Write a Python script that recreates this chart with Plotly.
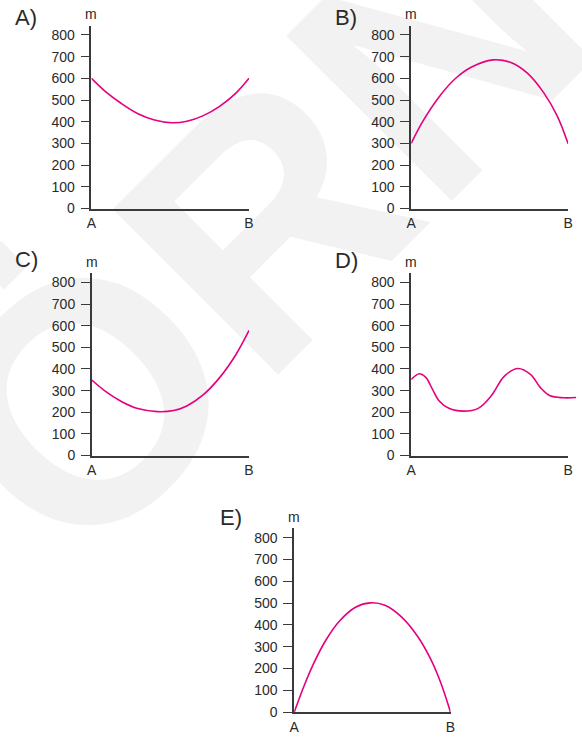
import plotly.graph_objects as go

W, H = 582, 740

# ---- data (x is fraction of the way from A to B, y in metres) ----
a_x = [0.0, 0.087, 0.19, 0.295, 0.40, 0.512, 0.606, 0.71, 0.813, 0.917, 1.0]
a_y = [600, 540, 484, 437, 408, 395, 402, 428, 471, 532, 600]

b_x = [0.0, 0.07, 0.175, 0.28, 0.385, 0.52, 0.635, 0.74, 0.845, 0.93, 1.0]
b_y = [300, 397, 512, 598, 652, 685, 673, 624, 533, 427, 298]

c_x = [0.0, 0.083, 0.188, 0.292, 0.417, 0.521, 0.604, 0.708, 0.813, 0.917, 1.0]
c_y = [349, 299, 250, 217, 203, 208, 229, 280, 360, 467, 578]

d_x = [0.0, 0.052, 0.094, 0.135, 0.177, 0.24, 0.333, 0.427, 0.51, 0.594, 0.68, 0.76, 0.823, 0.885, 0.969, 1.052]
d_y = [352, 378, 360, 307, 253, 218, 205, 218, 276, 367, 402, 375, 314, 276, 267, 268]

e_x = [0.0, 0.057, 0.126, 0.203, 0.287, 0.392, 0.486, 0.58, 0.686, 0.79, 0.874, 0.937, 1.0]
e_y = [0, 110, 226, 331, 416, 481, 501, 490, 437, 347, 242, 136, 0]

y_ticks = [0, 100, 200, 300, 400, 500, 600, 700, 800]
x_tick_labels = ["A", "B"]
panel_labels = ["A)", "B)", "C)", "D)", "E)"]
unit_label = "m"

series = [(a_x, a_y), (b_x, b_y), (c_x, c_y), (d_x, d_y), (e_x, e_y)]

# ---- geometry in page pixels: (x of y-axis, x of B, y of 0, y of 800, label x, label y) ----
geom = [
    (88, 248.3, 210.8, 35.3, 8, 18),
    (413.3, 573, 210.8, 35.3, 334, 18),
    (88.3, 248.3, 460.5, 285.5, 8, 262),
    (413.3, 573, 460.5, 285.5, 334, 263),
    (294.3, 453.3, 720, 543.5, 217, 523),
]


def px(p):
    return p / W


def py(p):
    return 1 - p / H


AXIS_COL = "#3a3a3a"
TXT_COL = "#2a2a2a"
CURVE_COL = "#e5007e"
FONT = "Arial, Liberation Sans, sans-serif"

fig = go.Figure()
layout = dict(
    width=W, height=H, autosize=False,
    margin=dict(l=0, r=0, t=0, b=0),
    paper_bgcolor="white", plot_bgcolor="rgba(0,0,0,0)",
    showlegend=False,
    font=dict(family=FONT, color=TXT_COL),
)
annotations = []

for i, ((xs, ys), (xl, xr, y0, y800, lx, ly)) in enumerate(zip(series, geom)):
    n = "" if i == 0 else str(i + 1)
    ppu = (y0 - y800) / 800.0
    ymax = 800 + 9.5 / ppu
    ydom = [py(y0), py(y800 - 9.5)]
    layout["xaxis" + n] = dict(
        domain=[px(xl), px(xr)], range=[0, 1], anchor="y" + n,
        showline=True, linecolor=AXIS_COL, linewidth=1.6, showgrid=False, zeroline=False,
        tickvals=[0, 1], ticktext=x_tick_labels, ticks="",
        tickfont=dict(size=14, color=TXT_COL, family=FONT), ticklabelstandoff=1,
        fixedrange=True,
    )
    layout["yaxis" + n] = dict(
        domain=ydom, range=[0, ymax], anchor="x" + n,
        showline=True, linecolor=AXIS_COL, linewidth=1.6, showgrid=False, zeroline=False,
        tickvals=y_ticks, ticks="outside", ticklen=9, tickwidth=1.4, tickcolor=AXIS_COL,
        tickfont=dict(size=14, color=TXT_COL, family=FONT), ticklabelstandoff=3,
        fixedrange=True,
    )
    xa, ya = "x" + n, "y" + n
    if max(xs) > 1.0:
        # curve runs a little past B: keep the visible axes (empty trace), draw the curve
        # on an invisible, slightly wider axis pair with the same scale
        fig.add_trace(go.Scatter(x=[None], y=[None], mode="lines", xaxis=xa, yaxis=ya,
                                 hoverinfo="skip"))
        m = str(6 + i)
        xmax = max(xs)
        layout["xaxis" + m] = dict(
            domain=[px(xl), px(xl + (xr - xl) * xmax)], range=[0, xmax], anchor="y" + m,
            visible=False, fixedrange=True,
        )
        layout["yaxis" + m] = dict(domain=ydom, range=[0, ymax], anchor="x" + m,
                                   visible=False, fixedrange=True)
        xa, ya = "x" + m, "y" + m
    fig.add_trace(go.Scatter(
        x=xs, y=ys, mode="lines",
        line=dict(color=CURVE_COL, width=1.6, shape="spline", smoothing=1.0),
        xaxis=xa, yaxis=ya, hoverinfo="skip",
    ))
    annotations.append(dict(
        x=px(lx), y=py(ly), xref="paper", yref="paper", xanchor="left", yanchor="middle",
        text=panel_labels[i], showarrow=False, font=dict(size=22, color=TXT_COL, family=FONT),
    ))
    annotations.append(dict(
        x=px(xl), y=py(y800 - 21), xref="paper", yref="paper", xanchor="center", yanchor="middle",
        text=unit_label, showarrow=False, font=dict(size=14, color=TXT_COL, family=FONT),
    ))

layout["annotations"] = annotations

# light watermark behind everything
cx, cy = 405, 38
layout["shapes"] = [dict(
    type="rect", xref="paper", yref="paper", layer="below",
    x0=px(cx - 5), x1=px(cx + 5), y0=py(cy + 5), y1=py(cy - 5),
    line=dict(width=0), fillcolor="rgba(0,0,0,0)",
    label=dict(text="<b>ÖRNEK</b>", textangle=-45, textposition="middle center",
               font=dict(size=340, color="#f2f2f2", family=FONT)),
)]

fig.update_layout(**layout)
fig.write_html("out.html", config={"displayModeBar": False},
               post_script="document.body.style.margin='0px';")
